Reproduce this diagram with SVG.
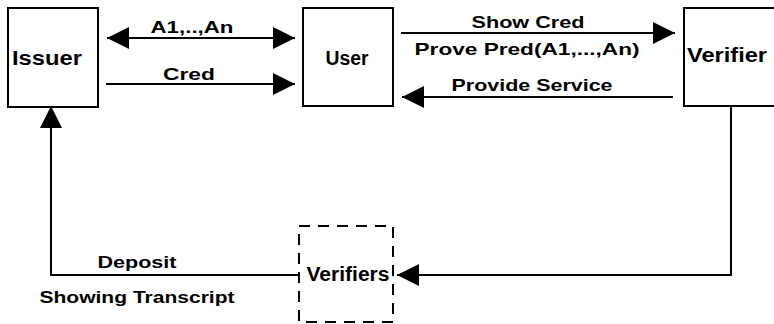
<svg xmlns="http://www.w3.org/2000/svg" width="774" height="324" viewBox="0 0 774 324">
  <style>
    .box { fill: #fff; stroke: #000; stroke-width: 2; }
    .dash { fill: none; stroke: #000; stroke-width: 2; stroke-dasharray: 11 8; }
    .line { fill: none; stroke: #000; stroke-width: 2; }
    .node { font-family: "Liberation Sans", Arial, sans-serif; font-weight: bold; font-size: 20px; fill: #000; }
    .lbl { font-family: "Liberation Sans", Arial, sans-serif; font-weight: bold; font-size: 17px; fill: #000; }
  </style>
  <defs>
    <marker id="head" markerUnits="userSpaceOnUse" markerWidth="24" markerHeight="24" refX="22" refY="11" orient="auto-start-reverse">
      <path d="M0,0 L22,11 L0,22 Z" fill="#000"/>
    </marker>
  </defs>

  <g id="issuer">
    <rect class="box" x="8" y="8" width="90" height="99"/>
    <text class="node" x="47" y="65" text-anchor="middle" textLength="70" lengthAdjust="spacingAndGlyphs">Issuer</text>
  </g>
  <g id="user">
    <rect class="box" x="303" y="8" width="90" height="98"/>
    <text class="node" x="347" y="65" text-anchor="middle" textLength="43" lengthAdjust="spacingAndGlyphs">User</text>
  </g>
  <g id="verifier">
    <rect class="box" x="684" y="8" width="100" height="98"/>
    <text class="node" x="727" y="62" text-anchor="middle" textLength="80" lengthAdjust="spacingAndGlyphs">Verifier</text>
  </g>
  <g id="verifiers">
    <rect class="dash" x="299" y="226" width="94" height="96"/>
    <text class="node" x="348" y="281" text-anchor="middle" textLength="83" lengthAdjust="spacingAndGlyphs">Verifiers</text>
  </g>

  <g id="connectors">
    <!-- attributes exchanged between issuer and user -->
    <line class="line" x1="107" y1="38" x2="295" y2="38" marker-start="url(#head)" marker-end="url(#head)"/>
    <!-- credential issuance -->
    <line class="line" x1="106" y1="84" x2="295" y2="84" marker-end="url(#head)"/>
    <!-- show credential -->
    <line class="line" x1="401" y1="33" x2="675" y2="33" marker-end="url(#head)"/>
    <!-- provide service -->
    <line class="line" x1="673" y1="97" x2="402" y2="97" marker-end="url(#head)"/>
    <!-- verifier to verifiers -->
    <polyline class="line" points="731,106 731,275 397,275" marker-end="url(#head)"/>
    <!-- deposit back to issuer -->
    <polyline class="line" points="299,275 51,275 51,106" marker-end="url(#head)"/>

    <text class="lbl" x="192" y="33" text-anchor="middle" textLength="83" lengthAdjust="spacingAndGlyphs">A1,..,An</text>
    <text class="lbl" x="189" y="80" text-anchor="middle" textLength="52" lengthAdjust="spacingAndGlyphs">Cred</text>
    <text class="lbl" x="528" y="28" text-anchor="middle" textLength="113" lengthAdjust="spacingAndGlyphs">Show Cred</text>
    <text class="lbl" x="527" y="55" text-anchor="middle" textLength="225" lengthAdjust="spacingAndGlyphs">Prove Pred(A1,...,An)</text>
    <text class="lbl" x="532" y="91" text-anchor="middle" textLength="161" lengthAdjust="spacingAndGlyphs">Provide Service</text>
    <text class="lbl" x="137" y="268" text-anchor="middle" textLength="79" lengthAdjust="spacingAndGlyphs">Deposit</text>
    <text class="lbl" x="137" y="303" text-anchor="middle" textLength="195" lengthAdjust="spacingAndGlyphs">Showing Transcript</text>
  </g>
</svg>
